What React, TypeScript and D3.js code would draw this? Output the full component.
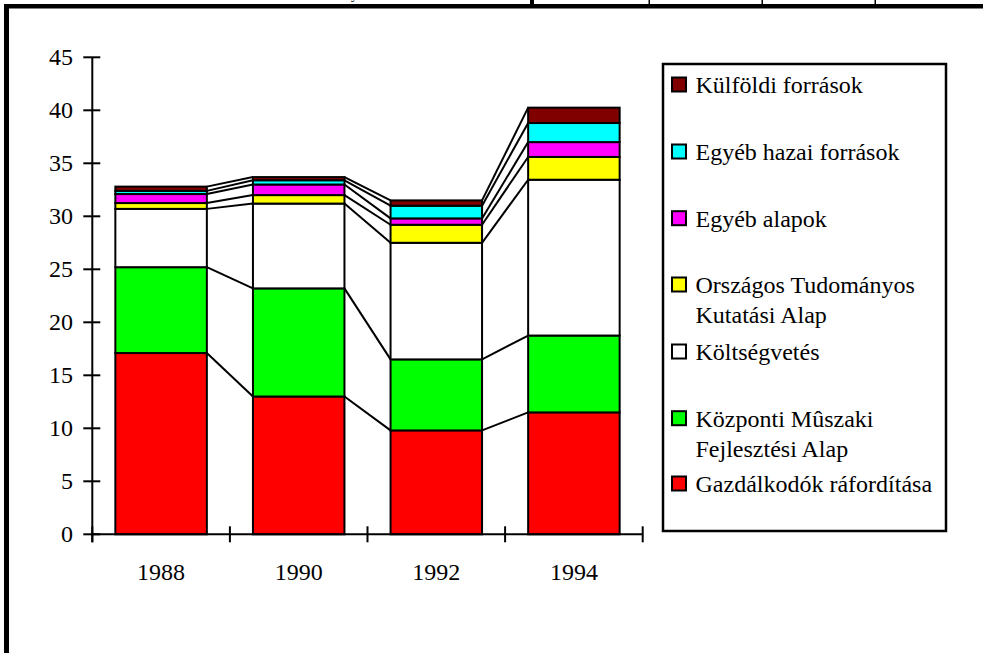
import React from "react";
import * as d3 from "d3";

const years = ["1988", "1990", "1992", "1994"];
const gazdalkodok = [17.1, 13.0, 9.8, 11.5];
const kozponti = [8.1, 10.2, 6.7, 7.25];
const koltsegvetes = [5.5, 8.0, 11.0, 14.7];
const otka = [0.55, 0.8, 1.7, 2.15];
const egyebAlapok = [0.85, 1.0, 0.6, 1.4];
const egyebHazai = [0.3, 0.4, 1.2, 1.8];
const kulfoldi = [0.4, 0.3, 0.5, 1.45];

const seriesNames = [
  ["Gazdálkodók ráfordítása"],
  ["Központi Mûszaki", "Fejlesztési Alap"],
  ["Költségvetés"],
  ["Országos Tudományos", "Kutatási Alap"],
  ["Egyéb alapok"],
  ["Egyéb hazai források"],
  ["Külföldi források"],
];
const seriesColors = ["#FF0000", "#00FF00", "#FFFFFF", "#FFFF00", "#FF00FF", "#00FFFF", "#800000"];
const seriesValues = [gazdalkodok, kozponti, koltsegvetes, otka, egyebAlapok, egyebHazai, kulfoldi];
const yTicks = [0, 5, 10, 15, 20, 25, 30, 35, 40, 45];

const FONT = "Liberation Serif, Times New Roman, serif";
const ts: React.CSSProperties = { fontFamily: FONT };

export default function App() {
  const W = 983;
  const H = 653;
  const x0 = 92.3;
  const x1 = 642.7;
  const y = d3.scaleLinear().domain([0, 45]).range([534.3, 57.3]);
  const x = d3
    .scaleBand<string>()
    .domain(years)
    .range([x0, x1])
    .paddingInner(0.335)
    .paddingOuter(0.1675);
  const step = x.step();
  const bw = x.bandwidth();

  const rows = years.map((yr, i) => {
    const r: any = { year: yr };
    seriesValues.forEach((s, k) => (r["s" + k] = s[i]));
    return r;
  });
  const keys = seriesValues.map((_, k) => "s" + k);
  const stacked = d3.stack().keys(keys)(rows);

  const legendTop = [93, 160, 226.7, 293, 360, 426.7, 492];
  const legendOrder = [6, 5, 4, 3, 2, 1, 0];

  const gaps = d3.range(years.length - 1);
  const bandTicks = d3.range(years.length + 1).map((i) => x0 + i * step);

  return (
    <svg
      width={W}
      height={H}
      style={{ position: "absolute", left: 0, top: 0, background: "#fff", fontFamily: FONT }}
    >
      <rect x={0} y={0} width={W} height={H} fill="#fff" />
      {/* frame remnants */}
      <rect x={4} y={4} width={W - 4} height={4.5} fill="#000" />
      <rect x={4} y={4} width={5} height={H - 4} fill="#000" />
      <rect x={530} y={0} width={4} height={5} fill="#000" />
      <rect x={648.5} y={0} width={1.5} height={5} fill="#000" />
      <rect x={761.5} y={0} width={1.5} height={5} fill="#000" />
      <rect x={874.5} y={0} width={1.5} height={5} fill="#000" />
      <text x={351} y={-1} fontSize={14} fill="#000" style={ts}>y</text>

      {/* connector lines */}
      {gaps.map((i) =>
        stacked.map((layer, k) => (
          <line
            key={`c${i}-${k}`}
            x1={(x(years[i]) as number) + bw}
            y1={y(layer[i][1])}
            x2={x(years[i + 1]) as number}
            y2={y(layer[i + 1][1])}
            stroke="#000"
            strokeWidth={2}
          />
        ))
      )}

      {/* bars */}
      {stacked.map((layer, k) =>
        layer.map((d, i) => (
          <rect
            key={`b${k}-${i}`}
            x={x(years[i]) as number}
            y={y(d[1])}
            width={bw}
            height={y(d[0]) - y(d[1])}
            fill={seriesColors[k]}
            stroke="#000"
            strokeWidth={2}
          />
        ))
      )}

      {/* y axis */}
      <line x1={x0} y1={y(0) + 8} x2={x0} y2={y(45)} stroke="#000" strokeWidth={2} />
      {yTicks.map((t) => (
        <g key={`yt${t}`}>
          <line x1={x0 - 9} x2={x0 + 8} y1={y(t)} y2={y(t)} stroke="#000" strokeWidth={2} />
          <text x={73} y={y(t) + 8} fontSize={24} textAnchor="end" fill="#000" style={ts}>
            {t}
          </text>
        </g>
      ))}

      {/* x axis */}
      <line x1={x0} y1={y(0)} x2={x1} y2={y(0)} stroke="#000" strokeWidth={2} />
      {bandTicks.map((t, i) => (
        <line key={`xt${i}`} x1={t} x2={t} y1={y(0) - 8} y2={y(0) + 8} stroke="#000" strokeWidth={2} />
      ))}
      {years.map((yr) => (
        <text
          key={`xl${yr}`}
          x={(x(yr) as number) + bw / 2}
          y={580}
          fontSize={24}
          textAnchor="middle"
          fill="#000"
          style={ts}
        >
          {yr}
        </text>
      ))}

      {/* legend */}
      <rect x={663} y={64} width={283} height={467} fill="#fff" stroke="#000" strokeWidth={2.5} />
      {legendOrder.map((k, j) => (
        <g key={`lg${k}`}>
          <rect
            x={672}
            y={legendTop[j] - 15.5}
            width={14}
            height={14}
            fill={seriesColors[k]}
            stroke="#000"
            strokeWidth={2}
          />
          {seriesNames[k].map((line, li) => (
            <text key={li} x={695.5} y={legendTop[j] + li * 30} fontSize={24} fill="#000" style={ts}>
              {line}
            </text>
          ))}
        </g>
      ))}
    </svg>
  );
}
